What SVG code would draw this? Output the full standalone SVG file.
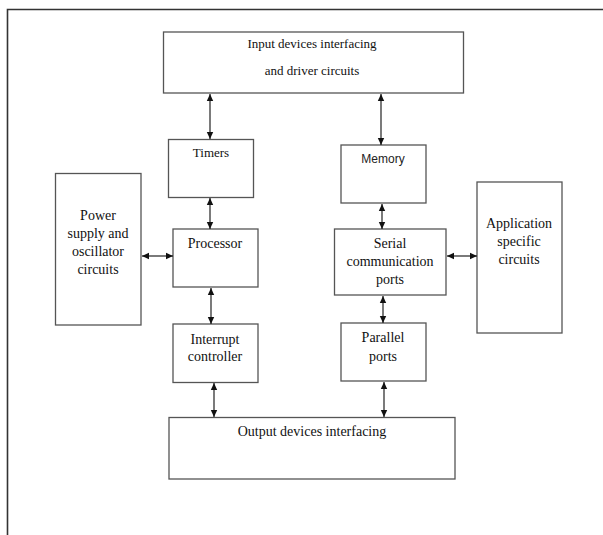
<svg xmlns="http://www.w3.org/2000/svg" width="603" height="535" viewBox="0 0 603 535">
<defs>
<marker id="ah" markerUnits="userSpaceOnUse" markerWidth="8" markerHeight="8" viewBox="0 0 8 8" refX="7" refY="4" orient="auto-start-reverse">
<path d="M0,0.8 L7,4 L0,7.2 Z" fill="#111"/>
</marker>
</defs>
<style>
.box{fill:#fff;stroke:#555;stroke-width:1.3}
.t{font-family:"Liberation Serif","Times New Roman",serif;font-size:14px;fill:#111;text-anchor:middle}
.s{font-size:13px}
.sans{font-family:"Liberation Sans",Arial,sans-serif;font-size:12px;fill:#222;text-anchor:middle}
.c{stroke:#222;stroke-width:1.2;fill:none;marker-start:url(#ah);marker-end:url(#ah)}
</style>
<rect width="603" height="535" fill="#fff"/>
<g id="frame" stroke="#333" stroke-width="1.6" fill="none">
<path d="M7.5,535 V9.5 H603"/>
</g>
<g id="input">
<rect class="box" x="163.5" y="32" width="300" height="61"/>
<text class="t s" x="312" y="48">Input devices interfacing</text>
<text class="t s" x="312" y="75">and driver circuits</text>
</g>
<g id="timers">
<rect class="box" x="168.5" y="139.5" width="85" height="58"/>
<text class="t s" x="211" y="157">Timers</text>
</g>
<g id="power">
<rect class="box" x="55.5" y="173.5" width="85.5" height="151.5"/>
<text class="t" x="98" y="220">Power</text>
<text class="t" x="98" y="238">supply and</text>
<text class="t" x="98" y="256">oscillator</text>
<text class="t" x="98" y="274">circuits</text>
</g>
<g id="processor">
<rect class="box" x="173" y="229" width="85" height="58"/>
<text class="t" x="215" y="248">Processor</text>
</g>
<g id="interrupt">
<rect class="box" x="173" y="324" width="85" height="58.5"/>
<text class="t" x="215" y="344">Interrupt</text>
<text class="t" x="215" y="361">controller</text>
</g>
<g id="memory">
<rect class="box" x="341" y="145" width="85" height="58"/>
<text class="sans" x="383" y="163">Memory</text>
</g>
<g id="serial">
<rect class="box" x="334.5" y="229" width="111.5" height="66"/>
<text class="t" x="390" y="248">Serial</text>
<text class="t" x="390" y="266">communication</text>
<text class="t" x="390" y="284">ports</text>
</g>
<g id="application">
<rect class="box" x="477" y="182" width="85" height="151"/>
<text class="t" x="519" y="228">Application</text>
<text class="t" x="519" y="246">specific</text>
<text class="t" x="519" y="264">circuits</text>
</g>
<g id="parallel">
<rect class="box" x="341" y="323" width="85" height="58"/>
<text class="t" x="383" y="342">Parallel</text>
<text class="t" x="383" y="361">ports</text>
</g>
<g id="output">
<rect class="box" x="169" y="417.5" width="286" height="61.5"/>
<text class="t" x="312" y="436">Output devices interfacing</text>
</g>
<g id="connectors">
<line class="c" x1="210" y1="94" x2="210" y2="139"/>
<line class="c" x1="381" y1="94" x2="381" y2="145"/>
<line class="c" x1="210" y1="198" x2="210" y2="229"/>
<line class="c" x1="142" y1="256" x2="173" y2="256"/>
<line class="c" x1="211" y1="288" x2="211" y2="324"/>
<line class="c" x1="382" y1="204" x2="382" y2="229"/>
<line class="c" x1="447" y1="256" x2="477" y2="256"/>
<line class="c" x1="383" y1="296" x2="383" y2="323"/>
<line class="c" x1="214" y1="383" x2="214" y2="417"/>
<line class="c" x1="384" y1="382" x2="384" y2="417"/>
</g>
</svg>
